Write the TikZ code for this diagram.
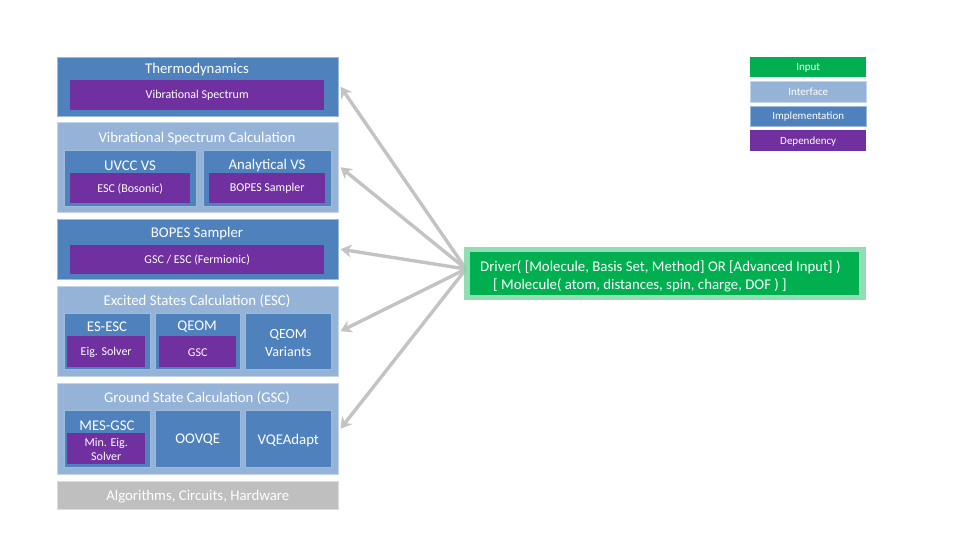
\documentclass[tikz,border=0pt]{standalone}
\usepackage{fontspec}
\setmainfont{Carlito}
\usetikzlibrary{arrows.meta}
\definecolor{implblue}{HTML}{4F81BD}
\definecolor{intfblue}{HTML}{95B3D7}
\definecolor{deppurple}{HTML}{7030A0}
\definecolor{inpgreen}{HTML}{00B050}
\definecolor{halogreen}{HTML}{7FD7A7}
\definecolor{basegray}{HTML}{BFBFBF}
\definecolor{linkgray}{HTML}{C3C3C3}
\tikzset{
  panel/.style={anchor=north west, inner sep=0pt, draw=white!45!#1, line width=0.5pt, fill=#1},
  impl/.style={panel=implblue},
  intf/.style={panel=intfblue},
  dep/.style={anchor=north west, inner sep=0pt, fill=deppurple},
  basebox/.style={panel=basegray},
  ttl/.style={text=white, font=\fontsize{14.8}{16}\selectfont, inner sep=0pt, yshift=-1.3pt},
  sub/.style={text=white, font=\fontsize{12}{13}\selectfont, inner sep=0pt, align=center, yshift=-0.5pt},
  leg/.style={text=white, font=\fontsize{11}{12}\selectfont, inner sep=0pt, yshift=-0.5pt},
  link/.style={draw=linkgray, line width=3.4pt, -{Stealth[length=11pt,width=13pt]}},
}
\newcommand{\boxat}[6]{\node[#1, minimum width=#4pt, minimum height=#5pt] (#6) at (#2,#3) {};}
\begin{document}
\begin{tikzpicture}[x=1pt,y=-1pt]
\useasboundingbox (0,0) rectangle (960,540);

% Thermodynamics
\boxat{impl}{57}{57}{281}{59}{thermo}
\node[ttl] (thermoT) at (197,68) {Thermodynamics};
\boxat{dep}{70}{80}{254}{30}{thermoD}
\node[sub] (thermoDT) at (thermoD.center) {Vibrational Spectrum};

% Vibrational spectrum calculation
\boxat{intf}{57}{122}{281}{90}{vsc}
\node[ttl] (vscT) at (197,137) {Vibrational Spectrum Calculation};
\boxat{impl}{64}{150}{132}{56}{uvcc}
\node[ttl] (uvccT) at (130,164) {UVCC VS};
\boxat{dep}{70}{173}{120}{30}{uvccD}
\node[sub] (uvccDT) at (uvccD.center) {ESC (Bosonic)};
\boxat{impl}{203}{150}{128}{56}{anvs}
\node[ttl] (anvsT) at (267,164) {Analytical VS};
\boxat{dep}{209}{173}{116}{30}{anvsD}
\node[sub] (anvsDT) at (anvsD.center) {BOPES Sampler};

% BOPES sampler
\boxat{impl}{57}{219}{281}{60}{bopes}
\node[ttl] (bopesT) at (197,232) {BOPES Sampler};
\boxat{dep}{70}{245}{254}{29}{bopesD}
\node[sub] (bopesDT) at (bopesD.center) {GSC / ESC (Fermionic)};

% Excited states calculation
\boxat{intf}{57}{286}{281}{90}{esc}
\node[ttl] (escT) at (197,300) {Excited States Calculation (ESC)};
\boxat{impl}{64}{313}{86}{56}{esesc}
\node[ttl] (esescT) at (107,325) {ES-ESC};
\boxat{dep}{67}{336}{78}{31}{esescD}
\node[sub] (esescDT) at (esescD.center) {Eig. Solver};
\boxat{impl}{155}{313}{85}{56}{qeom}
\node[ttl] (qeomT) at (197,325) {QEOM};
\boxat{dep}{159}{336}{77}{31}{qeomD}
\node[sub] (qeomDT) at (qeomD.center) {GSC};
\boxat{impl}{245}{313}{86}{56}{qeomv}
\node[ttl, align=center, font=\fontsize{14}{18}\selectfont] (qeomvT) at (qeomv.center) {QEOM\\Variants};

% Ground state calculation
\boxat{intf}{57}{383}{281}{91}{gsc}
\node[ttl] (gscT) at (197,397) {Ground State Calculation (GSC)};
\boxat{impl}{64}{410}{86}{57}{mesgsc}
\node[ttl] (mesgscT) at (107,424) {MES-GSC};
\boxat{dep}{67}{433}{78}{31}{mesgscD}
\node[sub, font=\fontsize{12}{14}\selectfont] (mesgscDT) at (mesgscD.center) {Min. Eig.\\Solver};
\boxat{impl}{155}{410}{85}{57}{oovqe}
\node[ttl] (oovqeT) at (oovqe.center) {OOVQE};
\boxat{impl}{245}{410}{86}{57}{vqea}
\node[ttl] (vqeaT) at (vqea.center) {VQEAdapt};

% Base layer
\boxat{basebox}{57}{481}{281}{28}{base}
\node[ttl] (baseT) at (base.center) {Algorithms, Circuits, Hardware};

% Links from the driver to each module
\coordinate (hub) at (466,269);
\draw[link] (hub) -- ([xshift=2pt]thermo.east);
\draw[link] (hub) -- ([xshift=2pt]vsc.east);
\draw[link] (hub) -- ([xshift=2pt]bopes.east);
\draw[link] (hub) -- ([xshift=2pt]esc.east);
\draw[link] (hub) -- ([xshift=2pt]gsc.east);

% Driver
\node[anchor=north west, inner sep=0pt, fill=halogreen, fill opacity=0.85, minimum width=402pt, minimum height=53pt] (halo) at (464,247) {};
\node[anchor=north west, inner sep=0pt, fill=inpgreen, minimum width=389pt, minimum height=43pt] (driver) at (470,252) {};
\node[ttl, anchor=west] (drvA) at (480,266) {Driver( [Molecule, Basis Set, Method] OR [Advanced Input] )};
\node[ttl, anchor=west] (drvB) at (493,284) {[ Molecule( atom, distances, spin, charge, DOF ) ]};

% Legend
\node[anchor=north west, inner sep=0pt, fill=inpgreen, minimum width=116pt, minimum height=20pt] (legIn) at (750,57) {};
\node[leg] (legInT) at (legIn.center) {Input};
\boxat{intf}{750}{81}{116}{21}{legIf}
\node[leg] (legIfT) at (legIf.center) {Interface};
\boxat{impl}{750}{106}{116}{20}{legIm}
\node[leg] (legImT) at (legIm.center) {Implementation};
\boxat{dep}{750}{130}{116}{21}{legDp}
\node[leg] (legDpT) at (legDp.center) {Dependency};
\end{tikzpicture}
\end{document}
